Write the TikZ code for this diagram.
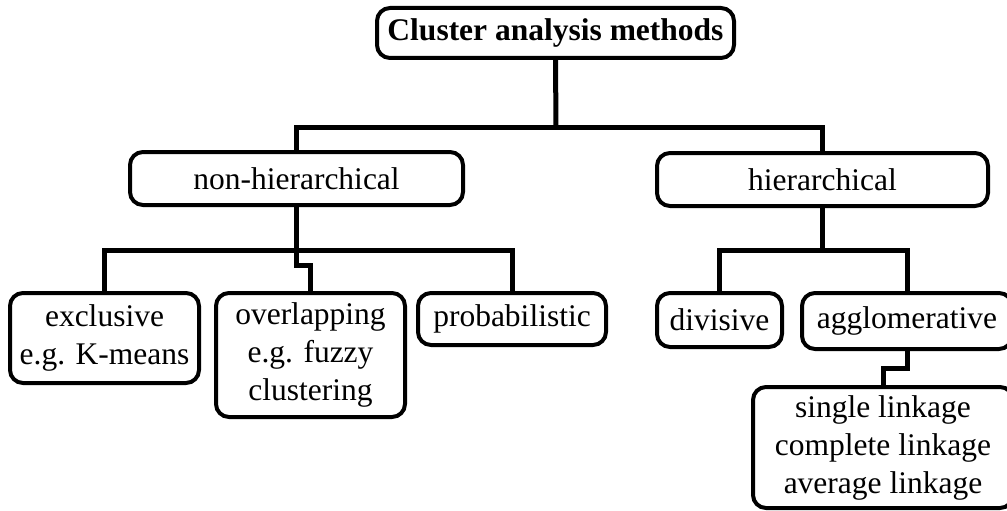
\documentclass[tikz,border=0pt]{standalone}
\usepackage{fontspec}
\setmainfont{Liberation Serif}
\begin{document}
\begin{tikzpicture}[x=1pt,y=-1pt,
  box/.style={draw=black, line width=4pt, rounded corners=13pt, align=center,
    inner sep=0pt, font=\fontsize{31.5}{38}\selectfont, fill=white},
  conn/.style={line width=5pt, line join=miter, line cap=butt}]
\useasboundingbox (0,0) rectangle (1007,511);
\node[box, minimum width=357pt, minimum height=50pt, font=\fontsize{31.5}{38}\selectfont\bfseries] (top) at (555.5,33) {Cluster analysis methods};
\node[box, minimum width=333pt, minimum height=53pt] (nonh) at (296.5,178.5) {non-hierarchical};
\node[box, minimum width=331pt, minimum height=53pt] (hier) at (822.5,179.5) {hierarchical};
\node[box, minimum width=189pt, minimum height=90pt] (excl) at (104.5,338) {exclusive\\e.g. K-means};
\node[box, minimum width=189pt, minimum height=124pt] (overl) at (310.5,355) {overlapping\\e.g. fuzzy\\clustering};
\node[box, minimum width=188pt, minimum height=52pt] (prob) at (512,319) {probabilistic};
\node[box, minimum width=125pt, minimum height=54pt] (div) at (719.5,320) {divisive};
\node[box, minimum width=210pt, minimum height=56pt] (aggl) at (907,321) {agglomerative};
\node[box, minimum width=260pt, minimum height=121pt] (link) at (883,447.5) {single linkage\\complete linkage\\average linkage};
\coordinate (j1) at (556,127);
\coordinate (j2) at (296.5,250);
\coordinate (j3) at (822.5,250);
\draw[conn] (top.south) -- (j1);
\draw[conn] (nonh.north) |- (j1) -| (hier.north);
\draw[conn] (nonh.south) -- (j2);
\draw[conn] (excl.north) |- (j2) -| (prob.north);
\draw[conn] (j2) -- ++(0,15) -| (overl.north);
\draw[conn] (hier.south) -- (j3);
\draw[conn] (div.north) |- (j3) -| (aggl.north);
\draw[conn] (aggl.south) -- ++(0,17) -| (link.north);
\end{tikzpicture}
\end{document}
